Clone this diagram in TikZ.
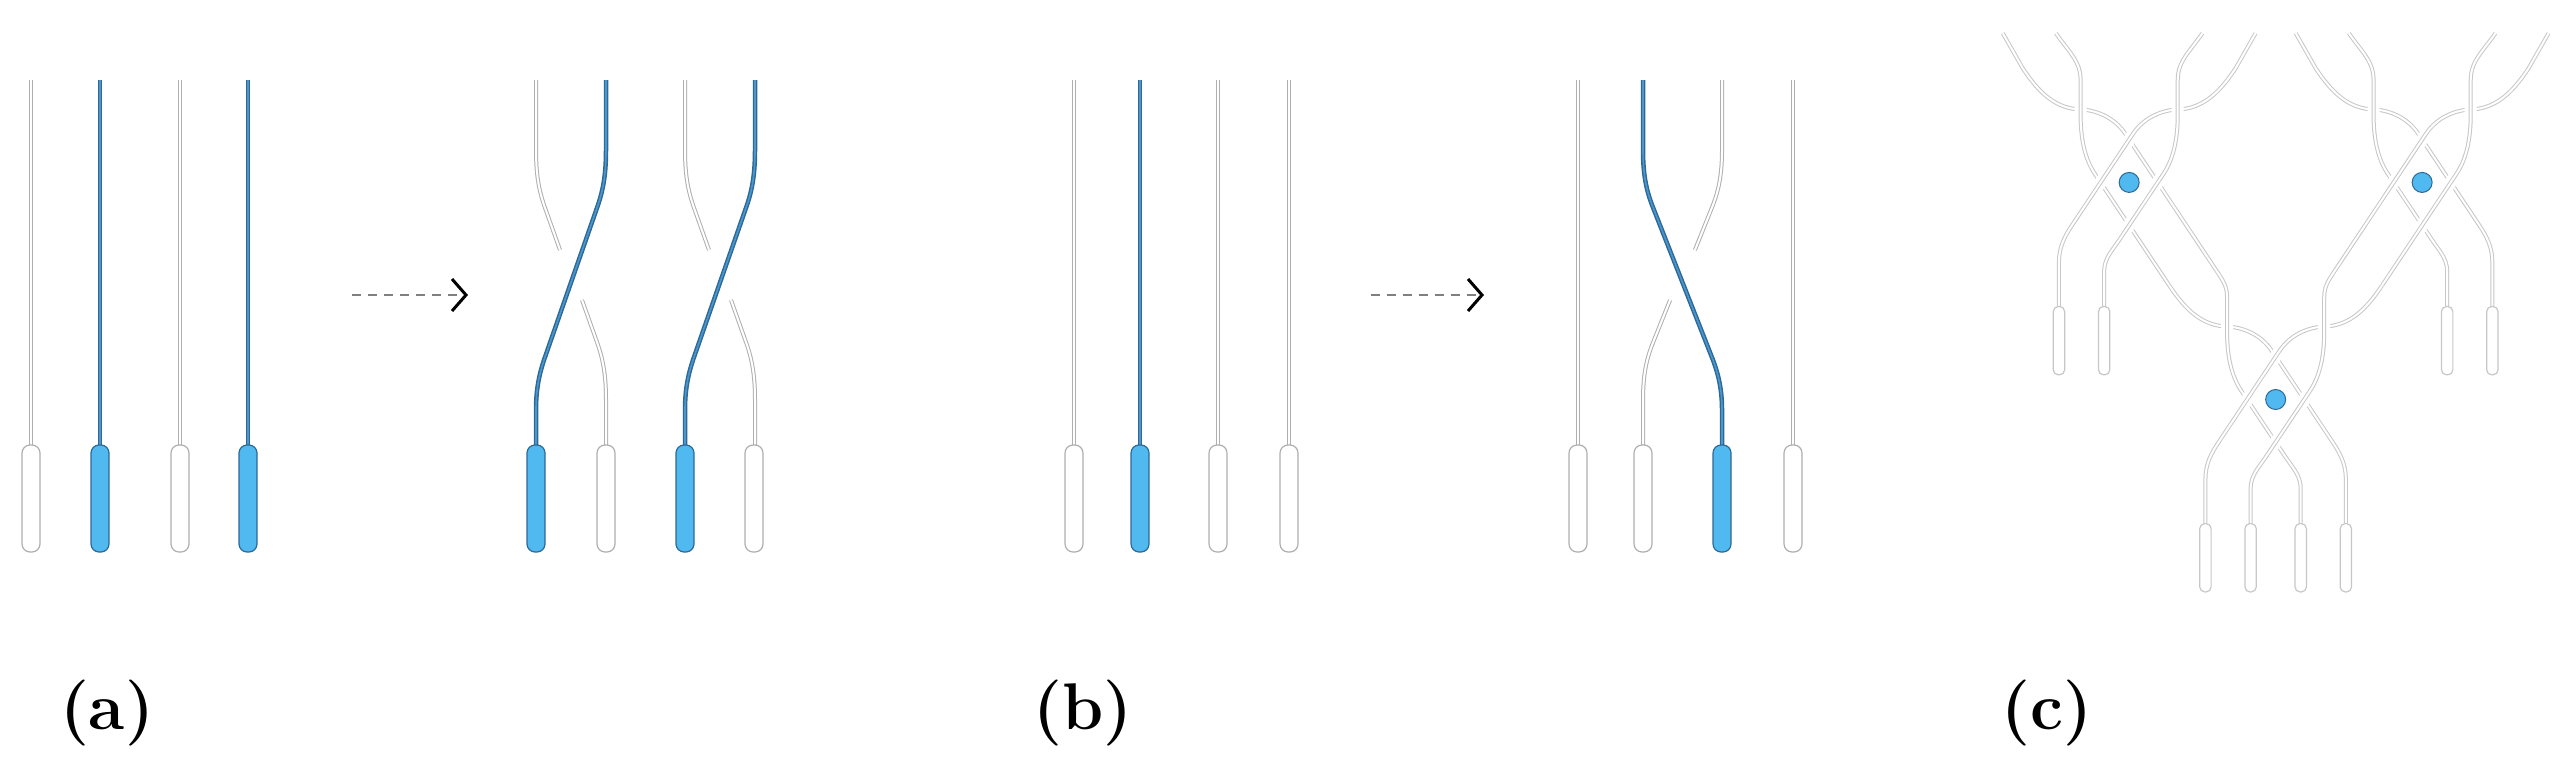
\documentclass[tikz,border=0pt]{standalone}
\definecolor{bdark}{RGB}{45,105,150}
\definecolor{bmid}{RGB}{75,150,205}
\definecolor{bfill}{RGB}{80,185,240}
\definecolor{sgray}{RGB}{175,175,175}
\tikzset{
 wstr/.style={line width=4pt, draw=sgray, postaction={draw=white, line width=2pt}},
 bstr/.style={line width=4.5pt, draw=bdark, postaction={draw=bmid, line width=1.6pt}},
 wcap/.style={draw=sgray, fill=white, rounded corners=8pt, line width=1.2pt},
 bcap/.style={draw=bdark, fill=bfill, rounded corners=8pt, line width=1.2pt},
 cstr/.style={line width=4pt, draw=black!22, preaction={draw=white, line width=12pt}, postaction={draw=white, line width=2pt}},
 ccap/.style={draw=black!22, fill=white, rounded corners=5pt, line width=1.2pt},
 dotc/.style={circle, fill=bfill, draw=bdark, line width=1pt, minimum size=20pt, inner sep=0pt},
 dasharr/.style={draw=black!50, dashed, dash pattern=on 9pt off 7pt, line width=2pt},
 chev/.style={draw=black, line width=3pt},
 lab/.style={font=\fontsize{66}{72}\selectfont\bfseries, inner sep=0pt},
 pAtop/.style={insert path={(-333,-393) -- (-280,-300)}},
 pAstart/.style={insert path={(-280,-300)}},
 pAbody/.style={insert path={.. controls (-240,-240) and (-200,-200) .. (-140,-193) .. controls (-90,-193) and (-40,-173) .. (-10,-128)}},
 pAcap/.style={insert path={-- (150,112) .. controls (170,142) and (185,170) .. (185,210) -- (185,327)}},
 pAlong/.style={insert path={-- (235,240) .. controls (248,260) and (258,275) .. (258,302)}},
 pBtop/.style={insert path={(-193,-393) .. controls (-160,-345) and (-128,-320) .. (-128,-270)}},
 pBstart/.style={insert path={(-128,-270)}},
 pBbody/.style={insert path={-- (-128,-178) .. controls (-128,-110) and (-115,-59) .. (-90,-22)}},
 pBcap/.style={insert path={-- (25,150) .. controls (45,180) and (66,200) .. (66,235) -- (66,327)}},
 pBlong/.style={insert path={-- (106,272)}},
}
\newcommand\crosspair{%
 \draw[wstr] (0,80) -- (0,150) .. controls (0,175) and (3,190) .. (8,205) -- (24,250);
 \draw[wstr] (46,300) -- (62,345) .. controls (67,360) and (70,375) .. (70,400) -- (70,445);
 \draw[bstr] (70,80) -- (70,150) .. controls (70,175) and (67,190) .. (62,205) -- (8,360) .. controls (3,375) and (0,390) .. (0,410) -- (0,445);
}
\begin{document}
\begin{tikzpicture}[x=1pt,y=-1pt]
\useasboundingbox (0,0) rectangle (2572,776);
% (a) left
\foreach \x/\b in {31/0,100/1,180/0,248/1}{
  \ifnum\b=1 \draw[bstr] (\x,80) -- (\x,445); \draw[bcap] (\x-9,445) rectangle (\x+9,552);
  \else \draw[wstr] (\x,80) -- (\x,445); \draw[wcap] (\x-9,445) rectangle (\x+9,552); \fi}
\coordinate (a1) at (352,295); \coordinate (a2) at (466,295);
\draw[dasharr] (a1) -- (a2);
\draw[chev] (452,279) -- (a2) -- (452,311);
% (a) right
\begin{scope}[shift={(536,0)}] \crosspair \end{scope}
\begin{scope}[shift={(685,0)}] \crosspair \end{scope}
\foreach \x/\b in {536/1,606/0,685/1,754/0}{
  \ifnum\b=1 \draw[bcap] (\x-9,445) rectangle (\x+9,552);
  \else \draw[wcap] (\x-9,445) rectangle (\x+9,552); \fi}
% (b) left
\foreach \x/\b in {1074/0,1140/1,1218/0,1289/0}{
  \ifnum\b=1 \draw[bstr] (\x,80) -- (\x,445); \draw[bcap] (\x-9,445) rectangle (\x+9,552);
  \else \draw[wstr] (\x,80) -- (\x,445); \draw[wcap] (\x-9,445) rectangle (\x+9,552); \fi}
\coordinate (b1) at (1371,295); \coordinate (b2) at (1482,295);
\draw[dasharr] (b1) -- (b2);
\draw[chev] (1468,279) -- (b2) -- (1468,311);
% (b) right
\draw[wstr] (1578,80) -- (1578,445);
\draw[wstr] (1793,80) -- (1793,445);
\begin{scope}[shift={(1722,0)}, xscale=-1.1286] \crosspair \end{scope}
\foreach \x/\b in {1578/0,1643/0,1722/1,1793/0}{
  \ifnum\b=1 \draw[bcap] (\x-9,445) rectangle (\x+9,552);
  \else \draw[wcap] (\x-9,445) rectangle (\x+9,552); \fi}
% (c)
\begin{scope}[shift={(1980,20)}, scale=0.3795]
 \begin{scope}[shift={(393,428)}]
   \draw[cstr, pAtop, pAbody, pAlong];
   \draw[cstr, pBtop, pBbody, pBlong];
   \begin{scope}[xscale=-1]
     \draw[cstr, pAtop, pAbody, pAcap];
     \draw[cstr, pBtop, pBbody, pBcap];
     \draw[ccap] (170,327) rectangle (200,507);
     \draw[ccap] (51,327) rectangle (81,507);
   \end{scope}
   \node[dotc] (d1) at (0,0) {};
 \end{scope}
 \begin{scope}[shift={(1165,428)}]
   \draw[cstr, pAtop, pAbody, pAcap];
   \draw[cstr, pBtop, pBbody, pBcap];
   \draw[ccap] (170,327) rectangle (200,507);
   \draw[ccap] (51,327) rectangle (81,507);
   \begin{scope}[xscale=-1]
     \draw[cstr, pAtop, pAbody, pAlong];
     \draw[cstr, pBtop, pBbody, pBlong];
   \end{scope}
   \node[dotc] (d2) at (0,0) {};
 \end{scope}
 \begin{scope}[shift={(779,1000)}]
   \draw[cstr, pAstart, pAbody, pAcap];
   \draw[cstr, pBstart, pBbody, pBcap];
   \draw[ccap] (170,327) rectangle (200,507);
   \draw[ccap] (51,327) rectangle (81,507);
   \begin{scope}[xscale=-1]
     \draw[cstr, pAstart, pAbody, pAcap];
     \draw[cstr, pBstart, pBbody, pBcap];
     \draw[ccap] (170,327) rectangle (200,507);
     \draw[ccap] (51,327) rectangle (81,507);
   \end{scope}
   \node[dotc] (d3) at (0,0) {};
 \end{scope}
\end{scope}
\node[lab] (la) at (107,713) {(a)};
\node[lab] (lb) at (1083,713) {(b)};
\node[lab] (lc) at (2047,713) {(c)};
\end{tikzpicture}
\end{document}
